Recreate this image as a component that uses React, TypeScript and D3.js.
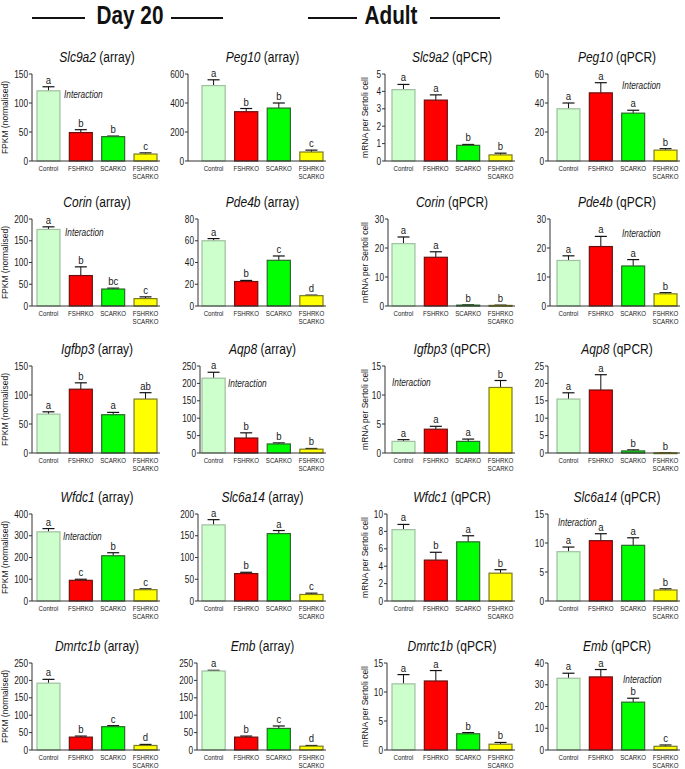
import React from "react";
import * as d3 from "d3";

// ---- data ----
const groups = ["Control", "FSHRKO", "SCARKO", "FSHRKO SCARKO"];
const geneNames = [
  "Slc9a2", "Peg10", "Slc9a2", "Peg10",
  "Corin", "Pde4b", "Corin", "Pde4b",
  "Igfbp3", "Aqp8", "Igfbp3", "Aqp8",
  "Wfdc1", "Slc6a14", "Wfdc1", "Slc6a14",
  "Dmrtc1b", "Emb", "Dmrtc1b", "Emb",
];
const methods = [
  "array", "array", "qPCR", "qPCR",
  "array", "array", "qPCR", "qPCR",
  "array", "array", "qPCR", "qPCR",
  "array", "array", "qPCR", "qPCR",
  "array", "array", "qPCR", "qPCR",
];
const means = [
  [121, 49, 42, 12], [520, 340, 365, 62], [4.1, 3.5, 0.9, 0.35], [36, 47, 33, 7.5],
  [176, 70, 39, 17], [60, 22.5, 42, 9.5], [21.5, 16.8, 0.3, 0.2], [15.7, 20.5, 13.8, 4.2],
  [67, 110, 66, 93], [215, 43, 26, 11], [2.0, 4.1, 2.0, 11.3], [15.5, 18.1, 0.6, 0.05],
  [318, 95, 208, 52], [175, 63, 155, 15], [8.2, 4.7, 6.8, 3.2], [8.5, 10.4, 9.6, 1.9],
  [192, 37, 67, 13], [227, 37, 62, 11], [11.4, 11.9, 2.8, 1.0], [33, 33.6, 22, 1.7],
];
const errorTops = [
  [128, 54, 43, 14], [560, 362, 400, 75], [4.4, 3.8, 0.95, 0.45], [40, 54, 35, 8.5],
  [182, 90, 41, 21], [62, 23.5, 46, 10], [23.8, 18.7, 0.4, 0.3], [17.3, 24, 16, 4.6],
  [71, 121, 70, 104], [232, 58, 29, 13], [2.3, 4.6, 2.4, 12.5], [17.3, 22.5, 0.9, 0.1],
  [333, 100, 222, 56], [187, 66, 162, 18], [8.8, 5.6, 7.5, 3.6], [9.3, 11.6, 10.9, 2.1],
  [203, 40, 70, 16], [229, 40, 69, 13], [13.0, 13.7, 3.0, 1.3], [35.3, 37, 23.8, 2.3],
];
const sigLetters = [
  ["a", "b", "b", "c"], ["a", "b", "b", "c"], ["a", "a", "b", "b"], ["a", "a", "a", "b"],
  ["a", "b", "bc", "c"], ["a", "b", "c", "d"], ["a", "a", "b", "b"], ["a", "a", "a", "b"],
  ["a", "b", "a", "ab"], ["a", "b", "b", "b"], ["a", "a", "a", "b"], ["a", "a", "b", "b"],
  ["a", "c", "b", "c"], ["a", "b", "a", "c"], ["a", "b", "a", "b"], ["a", "a", "a", "b"],
  ["a", "b", "c", "d"], ["a", "b", "c", "d"], ["a", "a", "b", "b"], ["a", "a", "b", "c"],
];
const yMaxes = [150, 600, 5, 60, 200, 80, 30, 30, 150, 250, 15, 25, 400, 200, 10, 15, 250, 250, 15, 40];
const ySteps = [50, 200, 1, 20, 50, 20, 10, 10, 50, 50, 5, 5, 100, 50, 2, 5, 50, 50, 5, 10];
const hasInteraction = [
  true, false, false, true,
  true, false, false, true,
  false, true, true, false,
  true, false, false, true,
  false, false, false, true,
];
const yLabels = ["FPKM (normalised)", "", "mRNA per Sertoli cell", ""];
const headers = ["Day 20", "Adult"];

// ---- layout ----
const W = 685, H = 769;
const SX = 0.83;
const colBar = [[37, 157], [202, 323], [392, 512], [557, 677]];
const rowTop = [74, 219, 366, 514, 663];
const plotH = 87;
const axisXs = [32, 188, 385, 548, 32, 198, 388, 550, 32, 200, 385, 548, 32, 198, 387, 548, 32, 197, 387, 548];
const interPos: Record<number, [number, number]> = {
  0: [27, 24], 3: [65, 15], 4: [28, 17], 7: [65, 18], 9: [26, 21],
  10: [0, 20], 12: [26, 26], 15: [1, 12], 19: [66, 19.5],
};
const fills = ["#ccffcc", "#ff0000", "#00ff00", "#ffff00"];
const strokes = ["#9fbf9f", "#6a1010", "#2a6a2a", "#7a7a20"];
const FONT = "'Liberation Sans', Arial, sans-serif";

function T(props: any) {
  const { x, y, size, children, anchor = "middle", italic, bold, fill = "#1a1a1a" } = props;
  return (
    <text
      transform={`translate(${x},${y}) scale(${SX},1)`}
      fontSize={size}
      fontFamily={FONT}
      textAnchor={anchor}
      fontStyle={italic ? "italic" : "normal"}
      fontWeight={bold ? "bold" : "normal"}
      fill={fill}
    >
      {children}
    </text>
  );
}

function Panel({ i }: { i: number }) {
  const row = Math.floor(i / 4);
  const col = i % 4;
  const top = rowTop[row];
  const zero = top + plotH;
  const ax = axisXs[i];
  const [b0, b1] = colBar[col];
  const y = d3.scaleLinear().domain([0, yMaxes[i]]).range([zero, top]);
  const x = d3.scaleBand<string>().domain(groups).range([b0, b1]).paddingInner(0.29).paddingOuter(0);
  const ticks = d3.range(0, yMaxes[i] + ySteps[i] / 2, ySteps[i]);
  const bw = x.bandwidth();
  const cx = (b0 + b1) / 2;
  return (
    <g>
      <text
        transform={`translate(${cx},${top - 12}) scale(${SX},1)`}
        fontSize={14.5}
        fontFamily={FONT}
        textAnchor="middle"
        fill="#111"
      >
        <tspan fontStyle="italic">{geneNames[i]}</tspan>
        <tspan> ({methods[i]})</tspan>
      </text>
      {groups.map((g, k) => {
        const bx = x(g)!;
        const m = means[i][k];
        const e = errorTops[i][k];
        const mid = bx + bw / 2;
        return (
          <g key={g}>
            <line x1={mid} x2={mid} y1={y(m)} y2={y(e)} stroke="#111" strokeWidth={1} />
            <line x1={mid - 6} x2={mid + 6} y1={y(e)} y2={y(e)} stroke="#111" strokeWidth={1.2} />
            <rect
              x={bx}
              y={y(m)}
              width={bw}
              height={Math.max(0.8, zero - y(m))}
              fill={fills[k]}
              stroke={strokes[k]}
              strokeWidth={1.2}
            />
            <T x={mid} y={y(e) - 3} size={11.5}>{sigLetters[i][k]}</T>
            {g.split(" ").map((part, j) => (
              <T key={j} x={mid} y={zero + 9.5 + j * 8} size={7.4}>{part}</T>
            ))}
          </g>
        );
      })}
      <line x1={ax} x2={ax} y1={top} y2={zero} stroke="#333" strokeWidth={1} />
      <line x1={ax} x2={b1 + 3} y1={zero} y2={zero} stroke="#333" strokeWidth={1} />
      {ticks.map((t) => (
        <g key={t}>
          <line x1={ax - 3} x2={ax} y1={y(t)} y2={y(t)} stroke="#333" strokeWidth={1} />
          <T x={ax - 4} y={y(t) + 3.5} size={10} anchor="end">{String(t)}</T>
        </g>
      ))}
      {hasInteraction[i] && interPos[i] && (
        <T x={b0 + interPos[i][0]} y={top + interPos[i][1]} size={10} anchor="start" italic fill="#222">
          Interaction
        </T>
      )}
      {yLabels[col] && (
        <text
          transform={`translate(${col === 0 ? 8 : 368},${(top + zero) / 2}) rotate(-90)`}
          fontSize={8.5}
          fontFamily={FONT}
          textAnchor="middle"
          fill="#1a1a1a"
        >
          {yLabels[col]}
        </text>
      )}
    </g>
  );
}

export default function App() {
  return (
    <svg width={W} height={H} style={{ position: "absolute", left: 0, top: 0, background: "#fff" }}>
      <rect width={W} height={H} fill="#fff" />
      <line x1={32} x2={85} y1={18} y2={18} stroke="#111" strokeWidth={2.2} />
      <line x1={171} x2={223} y1={18} y2={18} stroke="#111" strokeWidth={2.2} />
      <T x={130} y={24} size={25} bold fill="#111">{headers[0]}</T>
      <line x1={308} x2={357} y1={18} y2={18} stroke="#111" strokeWidth={2.2} />
      <line x1={430} x2={500} y1={18} y2={18} stroke="#111" strokeWidth={2.2} />
      <T x={391} y={24} size={25} bold fill="#111">{headers[1]}</T>
      {geneNames.map((_, i) => (
        <Panel key={i} i={i} />
      ))}
    </svg>
  );
}
